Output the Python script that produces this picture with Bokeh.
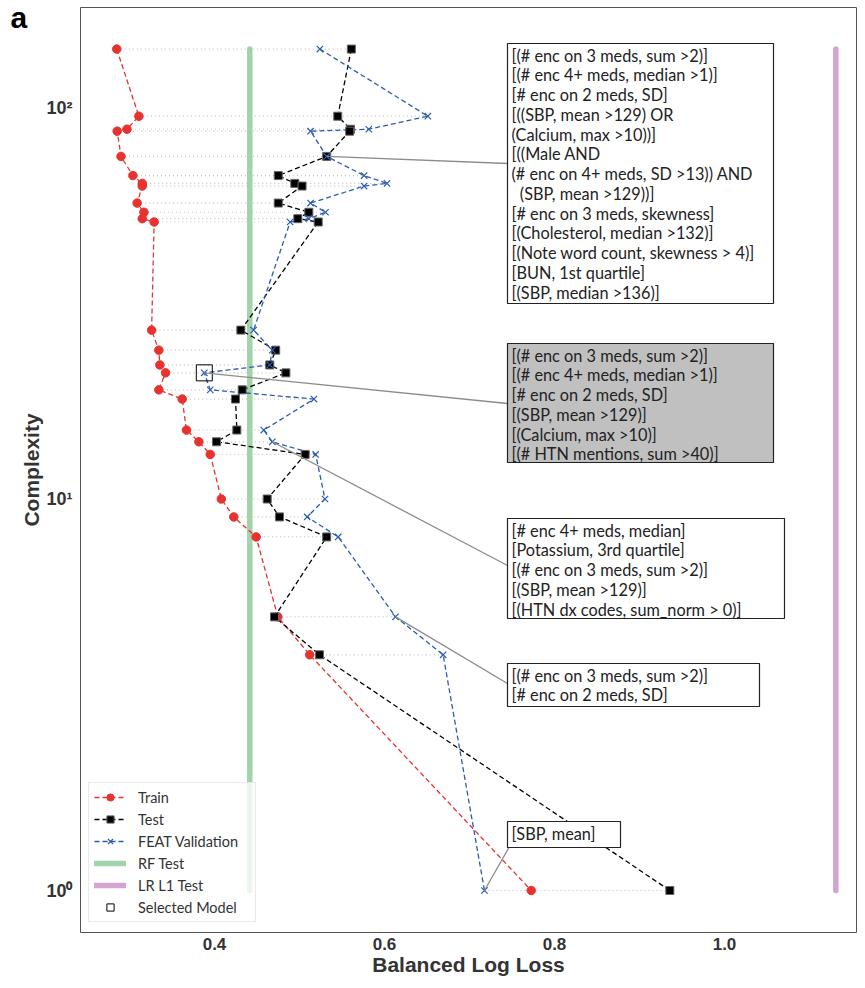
from bokeh.plotting import figure
from bokeh.models import (Range1d, Label, BoxAnnotation, Legend, LegendItem,
                          FixedTicker, CustomJSTickFormatter, PrintfTickFormatter)
from bokeh.embed import file_html
from bokeh.resources import INLINE

# ---------------- data ----------------
complexity = [141, 95, 88, 87, 75, 67, 64, 63, 57, 54, 52, 51, 27, 24, 22, 21,
              19, 18, 15, 14, 13, 10, 9, 8, 5, 4, 1]
train = [0.285, 0.311, 0.297, 0.2855, 0.290, 0.304, 0.315, 0.315, 0.309, 0.317,
         0.315, 0.329, 0.326, 0.3345, 0.3357, 0.3424, 0.3345, 0.362, 0.367,
         0.3816, 0.395, 0.408, 0.4227, 0.449, 0.4745, 0.512, 0.7726]
test = [0.561, 0.545, 0.560, 0.559, 0.532, 0.475, 0.4945, 0.503, 0.475, 0.511,
        0.498, 0.522, 0.431, 0.472, 0.465, 0.484, 0.4326, 0.4247, 0.4263,
        0.4024, 0.5067, 0.462, 0.4765, 0.532, 0.4706, 0.5235, 0.9357]
validation = [0.524, 0.651, 0.5815, 0.513, 0.532, 0.576, 0.603, 0.576, 0.513,
              0.5306, 0.511, 0.489, 0.446, 0.468, 0.465, 0.388, 0.395, 0.517,
              0.458, 0.468, 0.519, 0.530, 0.509, 0.5455, 0.613, 0.669, 0.7176]
rf_test = 0.4415
lr_l1_test = 1.131
selected_index = 15  # complexity 21

x_ticks = [0.4, 0.6, 0.8, 1.0]
y_ticks = [1, 10, 100]

box1_text = ["[(# enc on 3 meds, sum >2)]", "[(# enc 4+ meds, median >1)]",
             "[# enc on 2 meds, SD]", "[((SBP, mean >129) OR",
             "(Calcium, max >10))]", "[((Male AND",
             "(# enc on 4+ meds, SD >13)) AND", "\u00a0\u00a0(SBP, mean >129))]",
             "[# enc on 3 meds, skewness]", "[(Cholesterol, median >132)]",
             "[(Note word count, skewness > 4)]", "[BUN, 1st quartile]",
             "[(SBP, median >136)]"]
box2_text = ["[(# enc on 3 meds, sum >2)]", "[(# enc 4+ meds, median >1)]",
             "[# enc on 2 meds, SD]", "[(SBP, mean >129)]",
             "[(Calcium, max >10)]", "[(# HTN mentions, sum >40)]"]
box3_text = ["[# enc 4+ meds, median]", "[Potassium, 3rd quartile]",
             "[(# enc on 3 meds, sum >2)]", "[(SBP, mean >129)]",
             "[(HTN dx codes, sum_norm > 0)]"]
box4_text = ["[(# enc on 3 meds, sum >2)]", "[# enc on 2 meds, SD]"]
box5_text = ["[SBP, mean]"]

# ---------------- layout helpers (canvas pixel -> data) ----------------
FRAME_L, FRAME_R, FRAME_T, FRAME_B = 80, 856, 7, 932

def xv(px):
    return 0.4 + (px - 214) / 850.0

def yc(py):
    return 10 ** ((890 - py) / 391.5)

RED = "#e8322f"
BLUE = "#2a5cb0"
GREEN = "#a3d3aa"
PURPLE = "#d3a6d1"
TXT = "#333333"
AXFONT = "Liberation Sans"

p = figure(width=857, height=980, y_axis_type="log",
           x_range=Range1d(xv(FRAME_L), xv(FRAME_R)),
           y_range=Range1d(yc(FRAME_B), yc(FRAME_T)),
           output_backend="svg", toolbar_location=None,
           min_border_left=FRAME_L, min_border_right=857 - FRAME_R,
           min_border_top=FRAME_T, min_border_bottom=980 - FRAME_B)
p.grid.visible = False
p.outline_line_color = "#555555"
p.outline_line_width = 1
p.background_fill_color = "white"
p.border_fill_color = "white"

for ax in (p.xaxis[0], p.yaxis[0]):
    ax.major_tick_line_color = None
    ax.minor_tick_line_color = None
    ax.major_tick_out = 0
    ax.major_tick_in = 0
    ax.minor_tick_out = 0
    ax.minor_tick_in = 0
    ax.axis_line_color = None
    ax.major_label_text_font = AXFONT
    ax.major_label_text_font_style = "bold"
    ax.major_label_text_font_size = "17px"
    ax.major_label_text_color = TXT
    ax.axis_label_text_font = AXFONT
    ax.axis_label_text_font_style = "bold"
    ax.axis_label_text_font_size = "21px"
    ax.axis_label_text_color = TXT

p.xaxis.ticker = FixedTicker(ticks=x_ticks)
p.xaxis.formatter = PrintfTickFormatter(format="%.1f")
p.yaxis.ticker = FixedTicker(ticks=y_ticks)
p.yaxis.formatter = CustomJSTickFormatter(code="""
const e = Math.round(Math.log10(tick));
const sup = {"0": "\u2070", "1": "\u00b9", "2": "\u00b2"};
return "10" + sup[String(e)];
""")
p.yaxis.major_label_text_font_size = "18px"
p.xaxis.axis_label = "Balanced Log Loss"
p.yaxis.axis_label = "Complexity"
p.xaxis.major_label_standoff = 5
p.xaxis.axis_label_standoff = 0
p.yaxis.major_label_standoff = 8
p.yaxis.axis_label_standoff = 0

# dotted gray row guides
row_min = [min(a, b, c) for a, b, c in zip(train, test, validation)]
row_max = [max(a, b, c) for a, b, c in zip(train, test, validation)]
p.segment(x0=row_min, x1=row_max, y0=complexity, y1=complexity,
          line_color="#c4c4c4", line_width=1.2, line_dash="1 3")

# reference model lines
c_lo, c_hi = min(complexity), max(complexity)
r_rf = p.line(x=[rf_test, rf_test], y=[c_lo, c_hi], line_color=GREEN,
              line_width=5.5, line_cap="round")
r_lr = p.line(x=[lr_l1_test, lr_l1_test], y=[c_lo, c_hi], line_color=PURPLE,
              line_width=5.5, line_cap="round")

# series
r_tr_l = p.line(train, complexity, line_color=RED, line_dash="5 3", line_width=1.3)
r_te_l = p.line(test, complexity, line_color="black", line_dash="5 3", line_width=1.3)
r_va_l = p.line(validation, complexity, line_color=BLUE, line_dash="5 3", line_width=1.3)
r_tr_m = p.scatter(train, complexity, marker="circle", size=8.5, fill_color=RED,
                   line_color=RED)
r_te_m = p.scatter(test, complexity, marker="square", size=8, fill_color="black",
                   line_color="#666666", line_width=1)
r_va_m = p.scatter(validation, complexity, marker="x", size=9, line_color=BLUE,
                   line_width=1.2)
r_sel = p.scatter([validation[selected_index]], [complexity[selected_index]],
                  marker="square", size=16, fill_color=None, line_color="black",
                  line_width=1)

# annotation boxes and connectors
boxes = [
    (box1_text, (507, 43, 773, 303), "white", (validation[4], complexity[4]), (507, 163)),
    (box2_text, (507, 343, 773, 462), "#c0c0c0",
     (validation[selected_index], complexity[selected_index]), (507, 403)),
    (box3_text, (507, 518, 784, 618), "white", (validation[19], complexity[19]), (507, 565)),
    (box4_text, (507, 663, 759, 706), "white", (validation[24], complexity[24]), (507, 683)),
    (box5_text, (507, 821, 620, 847), "white", (validation[26], complexity[26]), (509, 846)),
]
for text, (l, t, r, b), fill, (sx, sy), (ex, ey) in boxes:
    p.line([sx, xv(ex)], [sy, yc(ey)], line_color="#8c8c8c", line_width=1.3)
for text, (l, t, r, b), fill, (sx, sy), (ex, ey) in boxes:
    p.add_layout(BoxAnnotation(left=xv(l), right=xv(r), top=yc(t), bottom=yc(b),
                               fill_color=fill, fill_alpha=1.0,
                               line_color="#222222", line_width=1.2,
                               line_alpha=1.0))
    p.add_layout(Label(x=xv(l + 4), y=yc(t + 2), text="\n".join(text),
                       text_font="Lato", text_font_size="16.3px",
                       text_color="#222222", text_baseline="top",
                       text_align="left", text_line_height=1.04))

# panel letter, placed in the left side panel so it is not clipped to the frame
p.add_layout(Label(x=xv(10), y=yc(17), text="a", text_font=AXFONT,
                   text_font_style="bold", text_font_size="30px",
                   text_color="black", text_baseline="alphabetic"), "left")

legend = Legend(items=[
    LegendItem(label="Train", renderers=[r_tr_l, r_tr_m]),
    LegendItem(label="Test", renderers=[r_te_l, r_te_m]),
    LegendItem(label="FEAT Validation", renderers=[r_va_l, r_va_m]),
    LegendItem(label="RF Test", renderers=[r_rf]),
    LegendItem(label="LR L1 Test", renderers=[r_lr]),
    LegendItem(label="Selected Model", renderers=[r_sel]),
], location=(8, 10))
legend.label_text_font = "Lato"
legend.label_text_font_size = "14.5px"
legend.label_text_color = TXT
legend.glyph_width = 32
legend.glyph_height = 18
legend.label_height = 18
legend.label_width = 112
legend.spacing = 4
legend.padding = 5
legend.margin = 0
legend.label_standoff = 12
legend.border_line_color = "#d5d5d5"
legend.background_fill_alpha = 0.8
p.add_layout(legend)

open("out.html", "w").write(file_html(p, INLINE))
